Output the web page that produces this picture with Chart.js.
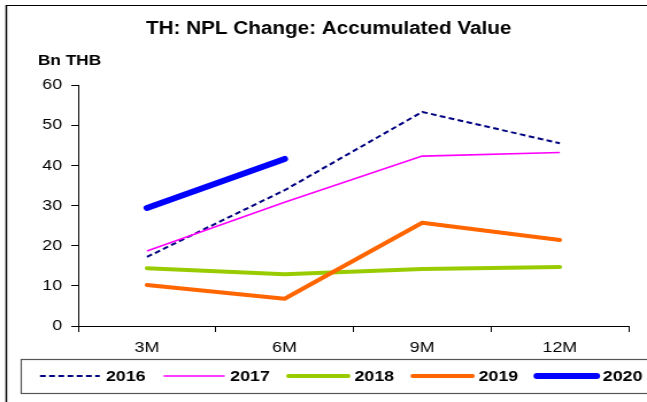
<!DOCTYPE html>
<html>
<head>
<meta charset="utf-8">
<script src="https://cdn.jsdelivr.net/npm/chart.js@4.4.0/dist/chart.umd.min.js"></script>
<style>
  html, body { margin: 0; padding: 0; background: #fff; }
  #nplChart { display: block; }
</style>
</head>
<body>
<!-- canvas is drawn a bit narrower and stretched to the page width -->
<canvas id="nplChart" width="563" height="402" style="width:647px;height:402px"></canvas>
<script>
var periods = ['3M', '6M', '9M', '12M'];
var npl2016 = [17.2, 33.8, 53.3, 45.5];
var npl2017 = [18.7, 30.8, 42.3, 43.2];
var npl2018 = [14.4, 12.9, 14.2, 14.7];
var npl2019 = [10.2, 6.8, 25.7, 21.4];
var npl2020 = [29.4, 41.6];
var yTicks = [0, 10, 20, 30, 40, 50, 60];

var FONT = '"Liberation Sans", Arial, Helvetica, sans-serif';

// title, unit label, outer frame and the boxed legend underneath
var decorations = {
    id: 'decorations',
    afterDraw: function (chart) {
        var c = chart.ctx;
        c.save();

        c.strokeStyle = '#000';
        c.lineWidth = 1;
        c.beginPath();
        c.moveTo(5, 5.5);
        c.lineTo(chart.width, 5.5);
        c.stroke();
        c.lineWidth = 1.5;
        c.beginPath();
        c.moveTo(5.5, 5);
        c.lineTo(5.5, chart.height);
        c.stroke();

        c.fillStyle = '#000';
        c.font = 'bold 18px ' + FONT;
        c.textAlign = 'center';
        c.textBaseline = 'alphabetic';
        c.fillText('TH: NPL Change: Accumulated Value', 286, 34);

        c.font = 'bold 15px ' + FONT;
        c.textAlign = 'left';
        c.fillText('Bn THB', 33, 65);

        c.strokeStyle = '#555';
        c.lineWidth = 1.2;
        c.strokeRect(18.5, 359.5, chart.width, 34);

        var y = 376;
        chart.data.datasets.forEach(function (ds, i) {
            var x = 34.8 + i * 108.1;
            c.save();
            c.beginPath();
            c.setLineDash(ds.borderDash || []);
            c.lineCap = ds.borderDash ? 'butt' : 'round';
            c.strokeStyle = ds.borderColor;
            c.lineWidth = ds.borderWidth;
            c.moveTo(x, y);
            c.lineTo(x + 52, y);
            c.stroke();
            c.restore();
            c.fillStyle = '#000';
            c.font = 'bold 15.5px ' + FONT;
            c.textBaseline = 'middle';
            c.fillText(ds.label, x + 57.4, y + 1);
        });
        c.restore();
    }
};

var ctx = document.getElementById('nplChart').getContext('2d');
var nplChart = new Chart(ctx, {
    type: 'line',
    data: {
        labels: periods,
        datasets: [{
            label: '2016',
            data: npl2016,
            borderColor: '#000080',
            borderWidth: 2,
            borderDash: [5, 3],
            order: 5
        }, {
            label: '2017',
            data: npl2017,
            borderColor: '#FF00FF',
            borderWidth: 1.6,
            order: 4
        }, {
            label: '2018',
            data: npl2018,
            borderColor: '#99CC00',
            borderWidth: 4,
            borderCapStyle: 'round',
            order: 3
        }, {
            label: '2019',
            data: npl2019,
            borderColor: '#FF6600',
            borderWidth: 4,
            borderCapStyle: 'round',
            order: 2
        }, {
            label: '2020',
            data: npl2020,
            borderColor: '#0000FF',
            borderWidth: 6,
            borderCapStyle: 'round',
            order: 1
        }]
    },
    options: {
        responsive: false,
        animation: false,
        devicePixelRatio: 1,
        elements: {
            point: { radius: 0, hoverRadius: 0 },
            line: { tension: 0, fill: false, borderJoinStyle: 'round' }
        },
        layout: {
            padding: { left: 18, right: 16, top: 85, bottom: 46 }
        },
        plugins: {
            legend: { display: false },
            title: { display: false },
            tooltip: { enabled: false }
        },
        scales: {
            x: {
                offset: true,
                grid: {
                    offset: true,
                    drawOnChartArea: false,
                    drawTicks: true,
                    tickLength: 6,
                    color: '#000'
                },
                border: { display: true, color: '#000', width: 1 },
                ticks: {
                    color: '#000',
                    font: { family: FONT, size: 15.5 },
                    padding: 6
                },
                afterFit: function (scale) { scale.height = 30; }
            },
            y: {
                min: yTicks[0],
                max: yTicks[yTicks.length - 1],
                grid: {
                    drawOnChartArea: false,
                    tickLength: 6,
                    color: '#000'
                },
                border: { display: true, color: '#000', width: 1 },
                ticks: {
                    stepSize: yTicks[1] - yTicks[0],
                    color: '#000',
                    font: { family: FONT, size: 15.5 },
                    padding: 8
                },
                afterFit: function (scale) { scale.width = 50; }
            }
        }
    },
    plugins: [decorations]
});
</script>
</body>
</html>
